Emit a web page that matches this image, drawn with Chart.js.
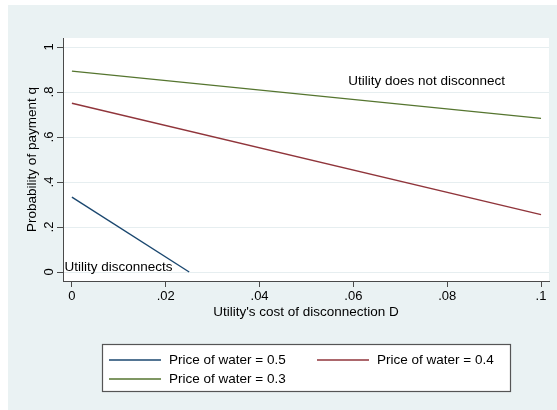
<!DOCTYPE html>
<html>
<head>
<meta charset="utf-8">
<script src="https://cdn.jsdelivr.net/npm/chart.js@4/dist/chart.umd.min.js"></script>
<style>
  html, body { margin: 0; padding: 0; background: #ffffff; }
  #wrap { width: 557px; height: 410px; }
</style>
</head>
<body>
<div id="wrap"><canvas id="c" width="557" height="410"></canvas></div>
<script>
// Disconnection cost D on the x axis, payment probability q on the y axis
const seriesLabels = ['Price of water = 0.5', 'Price of water = 0.4', 'Price of water = 0.3'];
const costBlue  = [0, 0.025];
const probBlue  = [0.333, 0];
const costRed   = [0, 0.1];
const probRed   = [0.75, 0.255];
const costGreen = [0, 0.1];
const probGreen = [0.893, 0.683];

const xTickValues = [0, 0.02, 0.04, 0.06, 0.08, 0.1];
const xTickLabels = ['0', '.02', '.04', '.06', '.08', '.1'];
const yTickValues = [0, 0.2, 0.4, 0.6, 0.8, 1];
const yTickLabels = ['0', '.2', '.4', '.6', '.8', '1'];

const noteTexts = ['Utility does not disconnect', 'Utility disconnects'];
const noteCost  = [0.0589, -0.0016];
const noteProb  = [0.849, 0.022];

const colors = ['#1a476f', '#90353b', '#55752f'];
const FONT = '"Liberation Sans", Arimo, Arial, sans-serif';
const BG = '#eaf2f3';

function pts(xs, ys) { return xs.map((x, i) => ({ x: x, y: ys[i] })); }

// Panel background, plot region fill
const backdrop = {
  id: 'backdrop',
  beforeDraw(chart) {
    const { ctx, width, height, chartArea: a } = chart;
    ctx.save();
    ctx.fillStyle = '#ffffff';
    ctx.fillRect(0, 0, width, height);
    ctx.fillStyle = BG;
    ctx.fillRect(8, 5, width - 8, height - 5);
    ctx.fillStyle = '#ffffff';
    ctx.fillRect(a.left, a.top, a.right - a.left, a.bottom - a.top);
    ctx.restore();
  }
};

// Rotated y tick labels, text notes and the boxed legend
const overlay = {
  id: 'overlay',
  afterDraw(chart) {
    const { ctx } = chart;
    const xs = chart.scales.x, ys = chart.scales.y;
    ctx.save();
    ctx.fillStyle = '#000';
    ctx.font = '13px ' + FONT;
    // y tick labels, reading bottom-to-top
    yTickValues.forEach((v, i) => {
      const py = ys.getPixelForValue(v);
      ctx.save();
      ctx.translate(53, py);
      ctx.rotate(-Math.PI / 2);
      ctx.textAlign = 'center';
      ctx.textBaseline = 'alphabetic';
      ctx.fillText(yTickLabels[i], 0, 0);
      ctx.restore();
    });
    // notes inside the plot
    ctx.textAlign = 'left';
    ctx.textBaseline = 'middle';
    ctx.font = '13.5px ' + FONT;
    noteTexts.forEach((t, i) => {
      ctx.fillText(t, xs.getPixelForValue(noteCost[i]), ys.getPixelForValue(noteProb[i]));
    });
    // legend
    const bx = 102, by = 344, bw = 408, bh = 47;
    ctx.fillStyle = '#ffffff';
    ctx.fillRect(bx, by, bw, bh);
    ctx.strokeStyle = '#555';
    ctx.lineWidth = 1.2;
    ctx.strokeRect(bx + 0.5, by + 0.5, bw, bh);
    const slots = [[109, 360], [317, 360], [109, 379]];
    ctx.font = '13.5px ' + FONT;
    chart.data.datasets.forEach((ds, i) => {
      const [lx, ly] = slots[i];
      ctx.strokeStyle = ds.borderColor;
      ctx.lineWidth = 1.4;
      ctx.beginPath();
      ctx.moveTo(lx, ly);
      ctx.lineTo(lx + 52, ly);
      ctx.stroke();
      ctx.fillStyle = '#000';
      ctx.textAlign = 'left';
      ctx.textBaseline = 'middle';
      ctx.fillText(ds.label, lx + 60, ly);
    });
    ctx.restore();
  }
};

new Chart(document.getElementById('c'), {
  type: 'line',
  data: {
    datasets: [
      { label: seriesLabels[0], data: pts(costBlue, probBlue), borderColor: colors[0] },
      { label: seriesLabels[1], data: pts(costRed, probRed), borderColor: colors[1] },
      { label: seriesLabels[2], data: pts(costGreen, probGreen), borderColor: colors[2] }
    ]
  },
  options: {
    responsive: false,
    animation: false,
    events: [],
    layout: { padding: { left: 8, top: 38, right: 8, bottom: 89 } },
    elements: {
      point: { radius: 0 },
      line: { borderWidth: 1.4, tension: 0 }
    },
    plugins: { legend: { display: false }, tooltip: { enabled: false } },
    scales: {
      x: {
        type: 'linear',
        min: -0.0019,
        max: 0.1017,
        afterBuildTicks: s => { s.ticks = xTickValues.map(v => ({ value: v })); },
        afterFit: s => { s.height = 40; },
        ticks: {
          autoSkip: false,
          maxRotation: 0,
          padding: 1.5,
          color: '#000',
          font: { family: FONT, size: 13 },
          callback: (v, i) => xTickLabels[i]
        },
        grid: { drawOnChartArea: false, drawTicks: true, tickLength: 6, tickColor: '#4a4a4a' },
        border: { color: '#4a4a4a', width: 1 },
        title: {
          display: true,
          text: "Utility's cost of disconnection D",
          color: '#000',
          font: { family: FONT, size: 13.5 },
          padding: { top: 0, bottom: 1 }
        }
      },
      y: {
        type: 'linear',
        min: -0.04,
        max: 1.04,
        afterBuildTicks: s => { s.ticks = yTickValues.map(v => ({ value: v })); },
        afterFit: s => { s.width = 55; },
        ticks: { display: false },
        grid: { color: '#e6eef0', lineWidth: 1, drawTicks: true, tickLength: 6, tickColor: '#4a4a4a' },
        border: { color: '#4a4a4a', width: 1 },
        title: {
          display: true,
          text: 'Probability of payment q',
          color: '#000',
          font: { family: FONT, size: 13.5 },
          padding: { top: 16, bottom: 0 }
        }
      }
    }
  },
  plugins: [backdrop, overlay]
});
</script>
</body>
</html>
